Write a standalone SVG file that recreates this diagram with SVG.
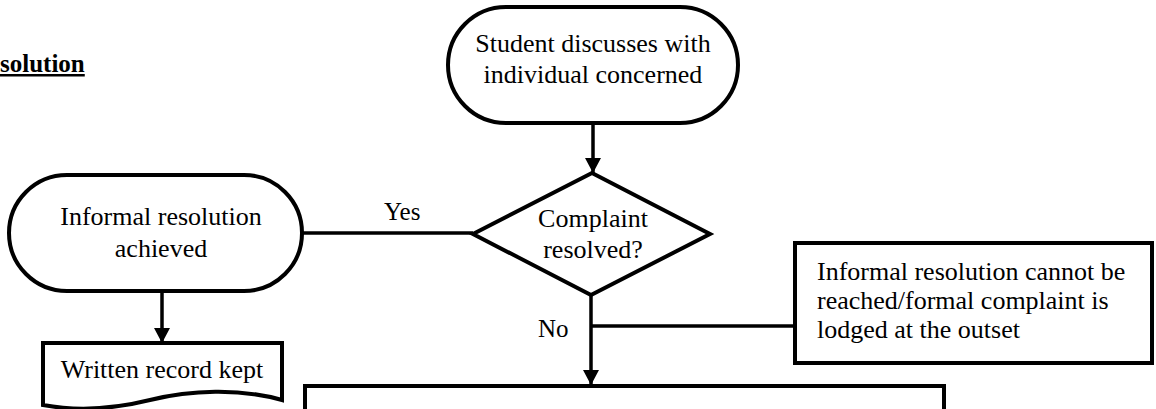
<svg xmlns="http://www.w3.org/2000/svg" width="1156" height="409" viewBox="0 0 1156 409">
<style>
.s{fill:#fff;stroke:#000;stroke-width:4}
.c{fill:none;stroke:#000;stroke-width:3.5}
.t{font-family:"Liberation Serif","Times New Roman",serif;font-size:26px;fill:#000}
.m{text-anchor:middle}
.l{font-family:"Liberation Serif","Times New Roman",serif;font-size:25px;fill:#000}
</style>
<defs>
<marker id="ah" viewBox="0 0 15 16" refX="15" refY="8" markerWidth="15" markerHeight="16" markerUnits="userSpaceOnUse" orient="auto">
<path d="M0,0 L15,8 L0,16 Z" fill="#000"/>
</marker>
</defs>
<text x="0" y="72" font-family="Liberation Serif, Times New Roman, serif" font-size="25" font-weight="bold" text-decoration="underline">solution</text>
<g id="connectors">
<line class="c" x1="593" y1="123" x2="593" y2="173" marker-end="url(#ah)"/>
<line class="c" x1="302" y1="233" x2="473" y2="233"/>
<line class="c" x1="162" y1="291" x2="162" y2="343" marker-end="url(#ah)"/>
<line class="c" x1="591" y1="295" x2="591" y2="385" marker-end="url(#ah)"/>
<line class="c" x1="591" y1="326" x2="795" y2="326"/>
<text class="l" x="384" y="220">Yes</text>
<text class="l" x="538" y="337">No</text>
</g>
<g id="start">
<rect class="s" x="448" y="7" width="290" height="116" rx="58" ry="58"/>
<text class="t m" x="593" y="52">Student discusses with</text>
<text class="t m" x="593" y="83">individual concerned</text>
</g>
<g id="decision">
<polygon class="s" points="592,173 710,234 591,295 473,234"/>
<text class="t m" x="593" y="227">Complaint</text>
<text class="t m" x="593" y="258">resolved?</text>
</g>
<g id="informal">
<rect class="s" x="9" y="175" width="293" height="116" rx="58" ry="58"/>
<text class="t m" x="161" y="225">Informal resolution</text>
<text class="t m" x="161" y="257">achieved</text>
</g>
<g id="record">
<path class="s" d="M43,343 H282 V400 C240,388 190,390 150,400 C110,410 75,411 43,405 Z"/>
<text class="t m" x="162" y="378">Written record kept</text>
</g>
<g id="formal">
<rect class="s" x="795" y="243" width="357" height="120"/>
<text class="t" x="817" y="280">Informal resolution cannot be</text>
<text class="t" x="817" y="309">reached/formal complaint is</text>
<text class="t" x="817" y="338">lodged at the outset</text>
</g>
<g id="next">
<rect class="s" x="305" y="386" width="639" height="40"/>
</g>
</svg>
